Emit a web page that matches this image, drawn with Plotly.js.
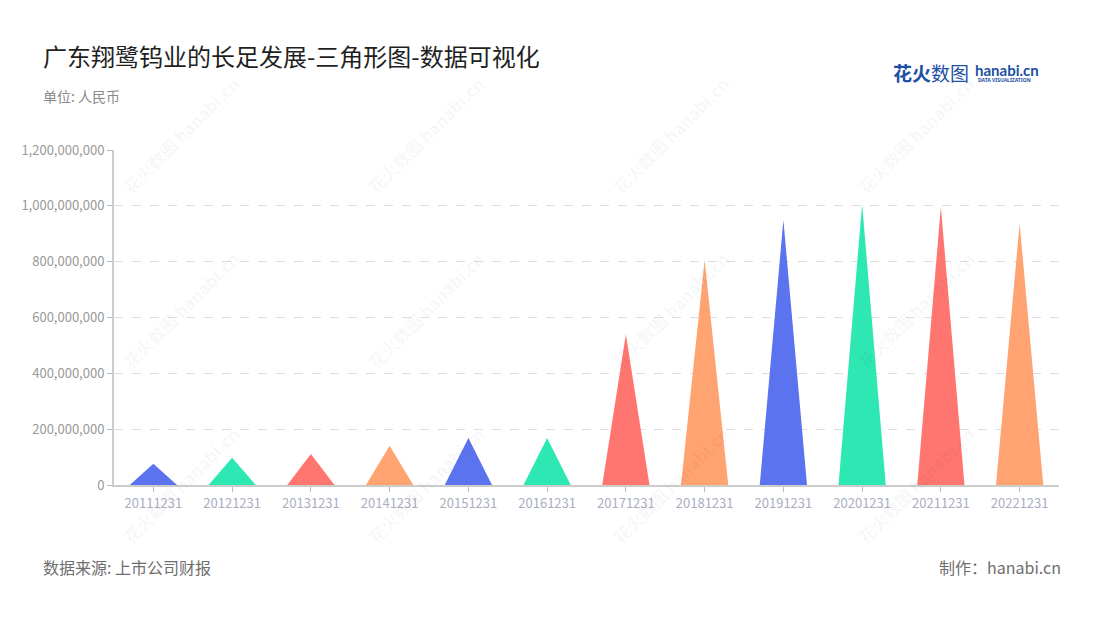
<!DOCTYPE html>
<html>
<head>
<meta charset="utf-8">
<script src="https://cdn.plot.ly/plotly-3.0.1.min.js"></script>
<style>
html,body{margin:0;padding:0;background:#fff;}
#chart{width:1100px;height:620px;}
</style>
</head>
<body>
<div id="chart"></div>
<script>
// ---- data ----
const categories = ["20111231","20121231","20131231","20141231","20151231","20161231",
                    "20171231","20181231","20191231","20201231","20211231","20221231"];
const values = [76000000, 98000000, 111000000, 141000000, 168000000, 168000000,
                540000000, 806000000, 949000000, 1006000000, 997000000, 937000000];
const palette = ["#5B73EE", "#2EE8B3", "#FF7671", "#FFA370"];
const yTickVals = [0, 200000000, 400000000, 600000000, 800000000, 1000000000, 1200000000];

const FONT = "'Noto Sans CJK SC', 'Noto Sans', sans-serif";
const halfWidth = 0.3;

const traces = categories.map((c, i) => ({
  type: "scatter",
  mode: "lines",
  x: [i - halfWidth, i, i + halfWidth, i - halfWidth],
  y: [0, values[i], 0, 0],
  fill: "toself",
  fillcolor: palette[i % palette.length],
  line: {width: 0, color: palette[i % palette.length]},
  hoverinfo: "text",
  text: c + ": " + values[i].toLocaleString("en-US"),
  showlegend: false
}));

const pxX = px => (px - 114) / (1059 - 114);
const pxY = py => (485 - py) / (485 - 150);

// watermarks
const wmX = [180, 425, 670, 915];
const wmY = [135, 310, 485];
const annotations = [];
wmY.forEach(yy => wmX.forEach(xx => {
  annotations.push({
    xref: "paper", yref: "paper",
    x: pxX(xx), y: pxY(yy),
    text: "<b>花火数图</b> <b>hanabi.cn</b>",
    showarrow: false, textangle: -45,
    font: {family: FONT, size: 17, color: "rgba(0,0,0,0.045)"},
    xanchor: "center", yanchor: "middle"
  });
}));

annotations.push(
  {xref: "paper", yref: "paper", x: pxX(41), y: pxY(55), xanchor: "left", yanchor: "middle",
   text: "广东翔鹭钨业的长足发展-三角形图-数据可视化", showarrow: false,
   font: {family: FONT, size: 24, color: "#1f1f1f"}},
  {xref: "paper", yref: "paper", x: pxX(41), y: pxY(96), xanchor: "left", yanchor: "middle",
   text: "单位: 人民币", showarrow: false,
   font: {family: FONT, size: 14, color: "#8a8a8a"}},
  {xref: "paper", yref: "paper", x: pxX(41), y: pxY(567), xanchor: "left", yanchor: "middle",
   text: "数据来源: 上市公司财报", showarrow: false,
   font: {family: FONT, size: 16, color: "#6e6e6e"}},
  {xref: "paper", yref: "paper", x: pxX(1063), y: pxY(567), xanchor: "right", yanchor: "middle",
   text: "制作：hanabi.cn", showarrow: false,
   font: {family: FONT, size: 16, color: "#6e6e6e"}},
  // logo
  {xref: "paper", yref: "paper", x: pxX(891), y: pxY(72), xanchor: "left", yanchor: "middle",
   text: "<b>花火</b>数图", showarrow: false,
   font: {family: FONT, size: 19, color: "#1D4FA3"}},
  {xref: "paper", yref: "paper", x: pxX(973), y: pxY(70), xanchor: "left", yanchor: "middle",
   text: "<b>hanabi.cn</b>", showarrow: false,
   font: {family: "Lato, 'Noto Sans', sans-serif", size: 15, color: "#1D4FA3"}},
  {xref: "paper", yref: "paper", x: pxX(976), y: pxY(80), xanchor: "left", yanchor: "middle",
   text: "<b>DATA VISUALIZATION</b>", showarrow: false,
   font: {family: "'Noto Sans', sans-serif", size: 5, color: "#1D4FA3"}}
);

const layout = {
  width: 1100, height: 620,
  margin: {l: 114, r: 41, t: 150, b: 135},
  paper_bgcolor: "#ffffff", plot_bgcolor: "#ffffff",
  showlegend: false,
  font: {family: FONT},
  xaxis: {
    range: [-0.5, categories.length - 0.5],
    tickmode: "array",
    tickvals: categories.map((c, i) => i),
    ticktext: categories,
    showgrid: false, zeroline: false,
    showline: true, linecolor: "#cccccc", linewidth: 2,
    ticks: "outside", ticklen: 5, tickcolor: "#bbbbbb", tickwidth: 1,
    tickfont: {family: FONT, size: 13, color: "#a8aec0"},
    fixedrange: true
  },
  yaxis: {
    range: [0, 1200000000],
    tickmode: "array",
    tickvals: yTickVals,
    ticktext: yTickVals.map(v => v.toLocaleString("en-US")),
    showgrid: true, gridcolor: "#dddddd", griddash: "dash", gridwidth: 1,
    zeroline: false,
    showline: true, linecolor: "#cccccc", linewidth: 2,
    ticks: "outside", ticklen: 5, tickcolor: "#bbbbbb", tickwidth: 1,
    tickfont: {family: FONT, size: 13, color: "#999999"},
    fixedrange: true
  },
  annotations: annotations
};

Plotly.newPlot("chart", traces, layout, {displayModeBar: false, staticPlot: true});
</script>
</body>
</html>
